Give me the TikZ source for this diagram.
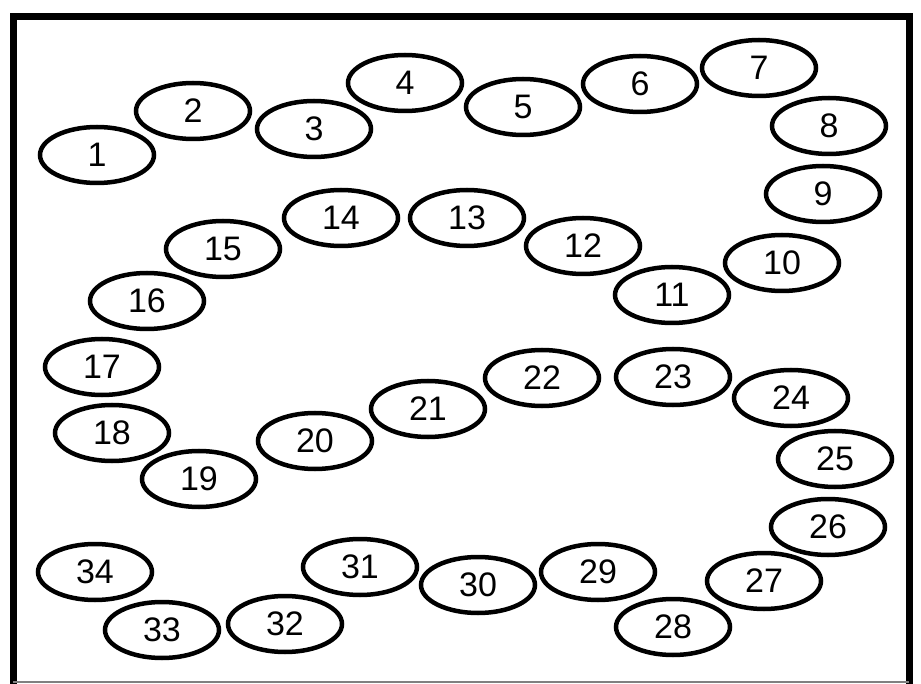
\documentclass[tikz,border=0pt]{standalone}
\usepackage{fontspec}
\setmainfont{Liberation Sans}
\usetikzlibrary{shapes.geometric}
\newcommand{\spotfont}{\fontsize{34pt}{34pt}\selectfont}
\tikzset{
  spot/.style={draw=black, line width=4.5pt, shape=ellipse, minimum width=114pt, minimum height=56pt, inner sep=0pt, font=\spotfont},
  frameline/.style={line width=7pt, line cap=rect}
}
\begin{document}
\begin{tikzpicture}[x=1pt,y=-1pt]
\useasboundingbox (0,0) rectangle (921,684);
\fill[white] (0,0) rectangle (921,684);
% frame
\coordinate (fbl) at (13,684);
\coordinate (ftl) at (13,17);
\coordinate (ftr) at (909,17);
\coordinate (fbr) at (909,682);
\coordinate (fbb) at (13,682);
\draw[frameline] (fbl) -- (ftl) -- (ftr) -- (fbr);
\draw[line width=1.5pt, gray] (fbb) -- (fbr);
% spots
\node[spot] (n1) at (97,155) {1};
\node[spot] (n2) at (193,111) {2};
\node[spot] (n3) at (314,129) {3};
\node[spot] (n4) at (405,83) {4};
\node[spot] (n5) at (523,107) {5};
\node[spot] (n6) at (640,84) {6};
\node[spot] (n7) at (759,68) {7};
\node[spot] (n8) at (829,126) {8};
\node[spot] (n9) at (823,194) {9};
\node[spot] (n10) at (782,263) {10};
\node[spot] (n11) at (672,295) {11};
\node[spot] (n12) at (583,246) {12};
\node[spot] (n13) at (467,218) {13};
\node[spot] (n14) at (341,218) {14};
\node[spot] (n15) at (223,249) {15};
\node[spot] (n16) at (147,301) {16};
\node[spot] (n17) at (102,367) {17};
\node[spot] (n18) at (112,433) {18};
\node[spot] (n19) at (199,479) {19};
\node[spot] (n20) at (315,441) {20};
\node[spot] (n21) at (428,409) {21};
\node[spot] (n22) at (542,378) {22};
\node[spot] (n23) at (673,377) {23};
\node[spot] (n24) at (791,398) {24};
\node[spot] (n25) at (835,459) {25};
\node[spot] (n26) at (828,527) {26};
\node[spot] (n27) at (764,581) {27};
\node[spot] (n28) at (673,627) {28};
\node[spot] (n29) at (598,572) {29};
\node[spot] (n30) at (478,585) {30};
\node[spot] (n31) at (360,567) {31};
\node[spot] (n32) at (285,624) {32};
\node[spot] (n33) at (162,630) {33};
\node[spot] (n34) at (95,572) {34};
\end{tikzpicture}
\end{document}
